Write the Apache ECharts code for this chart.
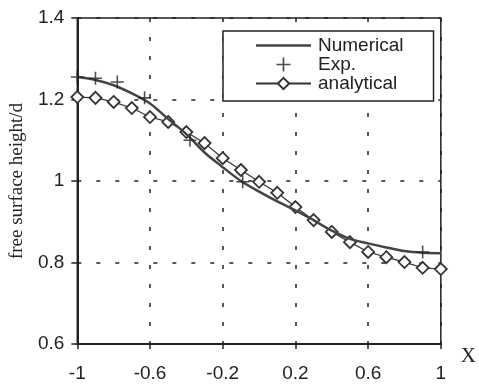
<!DOCTYPE html>
<html>
<head>
<meta charset="utf-8">
<script src="https://cdn.jsdelivr.net/npm/echarts@6/dist/echarts.min.js"></script>
<style>
html,body{margin:0;padding:0;background:#fff;}
#chart{width:479px;height:385px;}
</style>
</head>
<body>
<div id="chart"></div>
<script>
// ---- data ----
var xAnalytical = [-1,-0.9,-0.8,-0.7,-0.6,-0.5,-0.4,-0.3,-0.2,-0.1,0,0.1,0.2,0.3,0.4,0.5,0.6,0.7,0.8,0.9,1];
var yAnalytical = [1.206,1.204,1.194,1.179,1.157,1.145,1.120,1.093,1.056,1.027,0.998,0.971,0.936,0.904,0.875,0.850,0.826,0.813,0.801,0.787,0.784];

var xNumerical = [-1,-0.9,-0.8,-0.7,-0.6,-0.5,-0.4,-0.3,-0.2,-0.1,0,0.1,0.2,0.3,0.4,0.5,0.6,0.7,0.8,0.9,1];
var yNumerical = [1.255,1.248,1.235,1.215,1.190,1.152,1.115,1.070,1.034,1.000,0.974,0.950,0.928,0.904,0.878,0.858,0.847,0.837,0.828,0.824,0.823];

var xExp = [-1,-0.9,-0.78,-0.63,-0.38,-0.09,0.9];
var yExp = [1.255,1.252,1.243,1.204,1.100,0.998,0.826];

var xTicks = {min:-1, max:1, interval:0.4};
var yTicks = {min:0.6, max:1.4, interval:0.2};

function pairs(xs, ys){ return xs.map(function(x,i){ return [x, ys[i]]; }); }

var ink = '#222';
var sans = '"Liberation Sans", Arial, Helvetica, sans-serif';
var serif = '"Liberation Serif", "Times New Roman", serif';
var crossPath = 'path://M-0.12,-1 h0.24 v0.88 h0.88 v0.24 h-0.88 v0.88 h-0.24 v-0.88 h-0.88 v-0.24 h0.88 z';
var lineIcon = 'path://M0,0 h55 v2.5 h-55 z';

var chart = echarts.init(document.getElementById('chart'), null, {renderer:'canvas'});
chart.setOption({
  backgroundColor:'#fff',
  animation:false,
  grid:{left:73, right:38, top:18, bottom:41, show:true, borderColor:ink, borderWidth:1.5, backgroundColor:'transparent'},
  legend:{
    orient:'vertical', left:223, top:31,
    data:[{name:'Numerical', icon:lineIcon},'Exp.','analytical'],
    itemWidth:55, itemHeight:14, itemGap:0, symbolKeepAspect:true,
    padding:[5,30,8,32],
    backgroundColor:'#fff', borderColor:ink, borderWidth:1.5, borderRadius:0,
    textStyle:{fontFamily:sans, fontSize:19, color:ink, lineHeight:19, padding:[0,0,0,2]}
  },
  xAxis:{
    type:'value', min:xTicks.min, max:xTicks.max, interval:xTicks.interval,
    name:'X', nameLocation:'end', nameGap:20,
    nameTextStyle:{fontFamily:serif, fontSize:21, color:ink, verticalAlign:'top', padding:[2,0,0,0]},
    axisLine:{onZero:false, lineStyle:{color:ink, width:2}},
    axisTick:{show:true, inside:false, length:5, lineStyle:{color:ink, width:1.5}},
    axisLabel:{fontFamily:sans, fontSize:19, color:ink, margin:20},
    splitLine:{show:true, lineStyle:{color:ink, width:1.5, type:[4,15]}}
  },
  yAxis:{
    type:'value', min:yTicks.min, max:yTicks.max, interval:yTicks.interval,
    name:'free surface height/d', nameLocation:'middle', nameGap:44,
    nameTextStyle:{fontFamily:serif, fontSize:19, color:ink},
    axisLine:{onZero:false, lineStyle:{color:ink, width:2}},
    axisTick:{show:true, inside:false, length:6, lineStyle:{color:ink, width:1.5}},
    axisLabel:{fontFamily:sans, fontSize:19, color:ink, margin:13},
    splitLine:{show:true, lineStyle:{color:ink, width:1.5, type:[4,15]}}
  },
  series:[
    {
      name:'analytical', type:'line', data:pairs(xAnalytical, yAnalytical),
      symbol:'diamond', symbolSize:12, showSymbol:true,
      lineStyle:{color:'#333', width:1.2},
      itemStyle:{color:'#fff', borderColor:'#333', borderWidth:1.8},
      z:2
    },
    {
      name:'Numerical', type:'line', data:pairs(xNumerical, yNumerical),
      symbol:'none', smooth:0.3,
      lineStyle:{color:'#444', width:2.5},
      itemStyle:{color:'#444'},
      z:3
    },
    {
      name:'Exp.', type:'scatter', data:pairs(xExp, yExp),
      symbol:crossPath, symbolSize:13,
      itemStyle:{color:'#222', borderWidth:0},
      z:4
    }
  ]
});
</script>
</body>
</html>
